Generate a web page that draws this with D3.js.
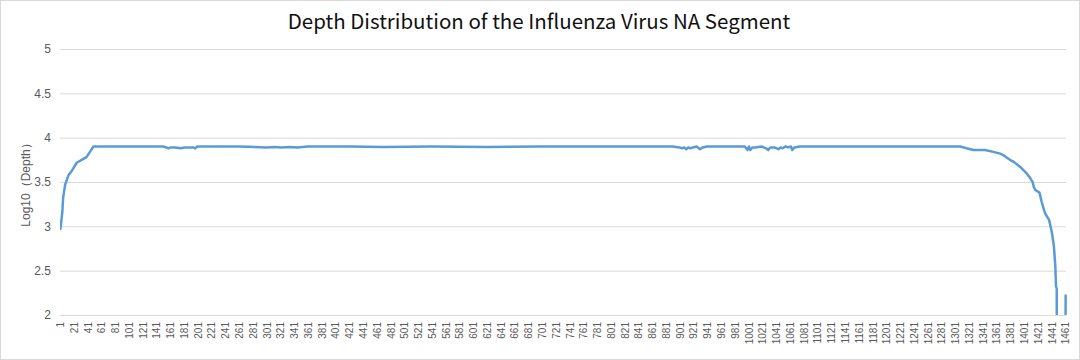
<!DOCTYPE html>
<html>
<head>
<meta charset="utf-8">
<script src="https://cdn.jsdelivr.net/npm/d3@7"></script>
<style>
  html, body { margin: 0; padding: 0; background: #fff; }
  svg { display: block; }
</style>
</head>
<body>
<svg id="chart" width="1080" height="360"></svg>
<script>
// ---- Data ----
const title = "Depth Distribution of the Influenza Virus NA Segment";
const yAxisTitle = "Log10（Depth）";
const categoryCount = 1461;
const categories = d3.range(1, categoryCount + 1);
const xTickLabels = d3.range(1, categoryCount + 1, 20);
const yTicks = [2, 2.5, 3, 3.5, 4, 4.5, 5];

// sampled positions along the segment and their log10(depth) readings
const positions = [
  1, 2, 4, 5, 8, 13, 18, 25, 32, 39, 44, 49,
  70, 110, 150, 155, 158, 161, 168, 176, 182, 190, 194, 197, 200, 210,
  260, 300, 312, 322, 334, 345, 360, 420, 470, 540, 620, 700, 780, 860, 890,
  900, 904, 907, 910, 913, 916, 920, 925, 930, 934, 940, 980, 995,
  999, 1001, 1003, 1006, 1010, 1020, 1026, 1029, 1032, 1038, 1044, 1047, 1050, 1054, 1058, 1062, 1064, 1067, 1075,
  1150, 1230, 1300, 1308, 1317, 1327, 1335, 1344, 1356, 1366, 1371, 1380, 1385,
  1395, 1400, 1404, 1409, 1413, 1415, 1417, 1423, 1426, 1431, 1437, 1441,
  1444, 1446, 1447, 1448, 1449, 1460, 1461
];
const depthLog = [
  2.97, 3.03, 3.17, 3.32, 3.47, 3.58, 3.63, 3.72, 3.75, 3.78, 3.84, 3.90,
  3.90, 3.90, 3.90, 3.89, 3.88, 3.89, 3.89, 3.88, 3.89, 3.89, 3.89, 3.88, 3.90, 3.90,
  3.90, 3.89, 3.895, 3.89, 3.895, 3.89, 3.90, 3.90, 3.895, 3.90, 3.895, 3.90, 3.90, 3.90, 3.90,
  3.89, 3.88, 3.89, 3.87, 3.89, 3.88, 3.89, 3.90, 3.87, 3.89, 3.90, 3.90, 3.90,
  3.86, 3.90, 3.86, 3.89, 3.89, 3.90, 3.88, 3.86, 3.89, 3.89, 3.87, 3.89, 3.88, 3.90, 3.89, 3.90, 3.86, 3.89, 3.90,
  3.90, 3.90, 3.90, 3.90, 3.88, 3.86, 3.86, 3.86, 3.84, 3.82, 3.80, 3.75, 3.73,
  3.67, 3.63, 3.60, 3.55, 3.50, 3.44, 3.41, 3.38, 3.28, 3.15, 3.07, 2.93,
  2.77, 2.55, 2.32, 2.30, 0, 0, 2.22
];

// ---- Layout ----
const W = 1080, H = 360;
const plot = { left: 60, right: 1066, top: 49, bottom: 315 };

const svg = d3.select("#chart");

// outer border
svg.append("rect")
  .attr("x", 0.5).attr("y", 0.5)
  .attr("width", W - 1).attr("height", H - 1)
  .attr("fill", "#fff").attr("stroke", "#d9d9d9");

const x = d3.scaleBand()
  .domain(categories)
  .range([plot.left, plot.right])
  .padding(0);
const xc = d => x(d) + x.bandwidth() / 2;

const y = d3.scaleLinear()
  .domain([2, 5])
  .range([plot.bottom, plot.top]);

// title
svg.append("text")
  .attr("x", W / 2 - 1).attr("y", 28.5)
  .attr("text-anchor", "middle")
  .attr("font-family", "'Noto Sans CJK SC', 'Noto Sans', sans-serif")
  .attr("font-size", 20.5)
  .attr("fill", "#111")
  .text(title);

// y gridlines + labels
const yAxis = d3.axisLeft(y)
  .tickValues(yTicks)
  .tickSize(-(plot.right - plot.left))
  .tickPadding(9)
  .tickFormat(d3.format("~g"));

const gy = svg.append("g")
  .attr("transform", `translate(${plot.left},0)`)
  .call(yAxis);
gy.select(".domain").remove();
gy.selectAll(".tick line").attr("stroke", "#d9d9d9").attr("stroke-width", 1);
gy.selectAll(".tick text")
  .attr("font-family", "'Liberation Sans', Arial, sans-serif")
  .attr("font-size", 12)
  .attr("fill", "#595959");

// y axis title
svg.append("text")
  .attr("transform", `translate(30,${(plot.top + plot.bottom) / 2}) rotate(-90)`)
  .attr("text-anchor", "middle")
  .attr("font-family", "'Liberation Sans', Arial, sans-serif")
  .attr("font-size", 12)
  .attr("fill", "#595959")
  .text(yAxisTitle);

// x axis labels (category axis, every 20th)
const xAxis = d3.axisBottom(x)
  .tickValues(xTickLabels)
  .tickSize(0)
  .tickPadding(0);
const gx = svg.append("g")
  .attr("transform", `translate(0,${plot.bottom})`)
  .call(xAxis);
gx.select(".domain").remove();
gx.selectAll(".tick text")
  .attr("font-family", "'Liberation Sans', Arial, sans-serif")
  .attr("font-size", 10)
  .attr("fill", "#595959")
  .attr("text-anchor", "end")
  .attr("transform", "rotate(-90)")
  .attr("x", -7)
  .attr("y", 0)
  .attr("dy", "0.35em");

// clip
svg.append("clipPath").attr("id", "clip")
  .append("rect")
  .attr("x", plot.left).attr("y", plot.top - 5)
  .attr("width", plot.right - plot.left + 5)
  .attr("height", plot.bottom - plot.top + 5);

const data = positions.map((p, i) => ({ p, v: depthLog[i] }));
const line = d3.line()
  .x(d => xc(d.p))
  .y(d => y(d.v));

svg.append("path")
  .datum(data)
  .attr("clip-path", "url(#clip)")
  .attr("fill", "none")
  .attr("stroke", "#5b9bd5")
  .attr("stroke-width", 2.5)
  .attr("stroke-linejoin", "round")
  .attr("stroke-linecap", "round")
  .attr("d", line);
</script>
</body>
</html>
